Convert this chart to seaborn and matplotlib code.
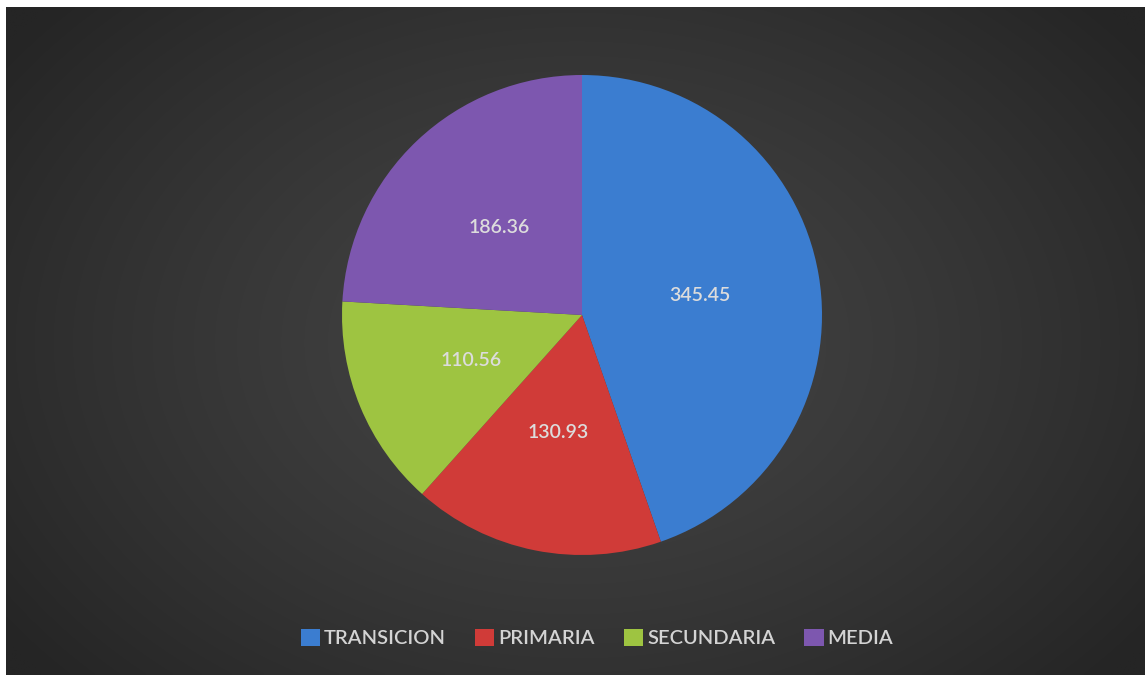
import numpy as np
import matplotlib
matplotlib.use("Agg")
import matplotlib.pyplot as plt
import seaborn as sns
from matplotlib.patches import Patch

categories = ["TRANSICION", "PRIMARIA", "SECUNDARIA", "MEDIA"]
values = [345.45, 130.93, 110.56, 186.36]
labels = ["345.45", "130.93", "110.56", "186.36"]
colors = ["#3B7DD0", "#D03B38", "#9EC441", "#7D57AF"]

sns.set_theme(style="white")
plt.rcParams["font.family"] = ["Lato", "DejaVu Sans"]

W, H = 1145, 675
fig = plt.figure(figsize=(W / 100, H / 100), dpi=100, facecolor="white")

# background panel with radial gradient
bg = fig.add_axes([6 / W, 0, 1 - 6 / W, (H - 7) / H])
ny, nx = 200, 340
yy, xx = np.mgrid[0:ny, 0:nx]
cx, cy = nx * 0.50, ny * 0.50
d = np.sqrt(((xx - cx) / (nx * 0.62)) ** 2 + ((yy - cy) / (ny * 0.75)) ** 2)
d = np.clip(d, 0, 1)
light, dark = 0x44 / 255, 0x25 / 255
g = light + (dark - light) * d ** 1.3
img = np.dstack([g, g, g])
bg.imshow(img, aspect="auto", extent=[0, 1, 0, 1], interpolation="bilinear")
bg.set_axis_off()

# pie
cxp, cyp, R = 582, 675 - 315, 240
ax = fig.add_axes([(cxp - R) / W, (cyp - R) / H, 2 * R / W, 2 * R / H])
wedges, texts = ax.pie(values, colors=colors, startangle=90, counterclock=False,
                       labels=labels, labeldistance=0.5, radius=1,
                       wedgeprops=dict(linewidth=0),
                       textprops=dict(color="#DCDCDC", fontsize=14, fontweight="semibold"))
for t in texts:
    t.set_ha("center")
    t.set_va("center")
ax.set_xlim(-1, 1)
ax.set_ylim(-1, 1)
ax.set_aspect("equal")
ax.set_axis_off()

handles = [Patch(facecolor=c, edgecolor="none", label=n) for c, n in zip(colors, categories)]
leg = fig.legend(handles=handles, loc="center", bbox_to_anchor=(597 / W, 1 - 638 / H),
                 ncol=4, frameon=False, handlelength=0.95, handleheight=0.95,
                 handletextpad=0.2, columnspacing=1.45,
                 prop=dict(size=14.5, weight="semibold"))
for t in leg.get_texts():
    t.set_color("#D4D4D4")

fig.savefig("out.png", dpi=100, facecolor="white")
